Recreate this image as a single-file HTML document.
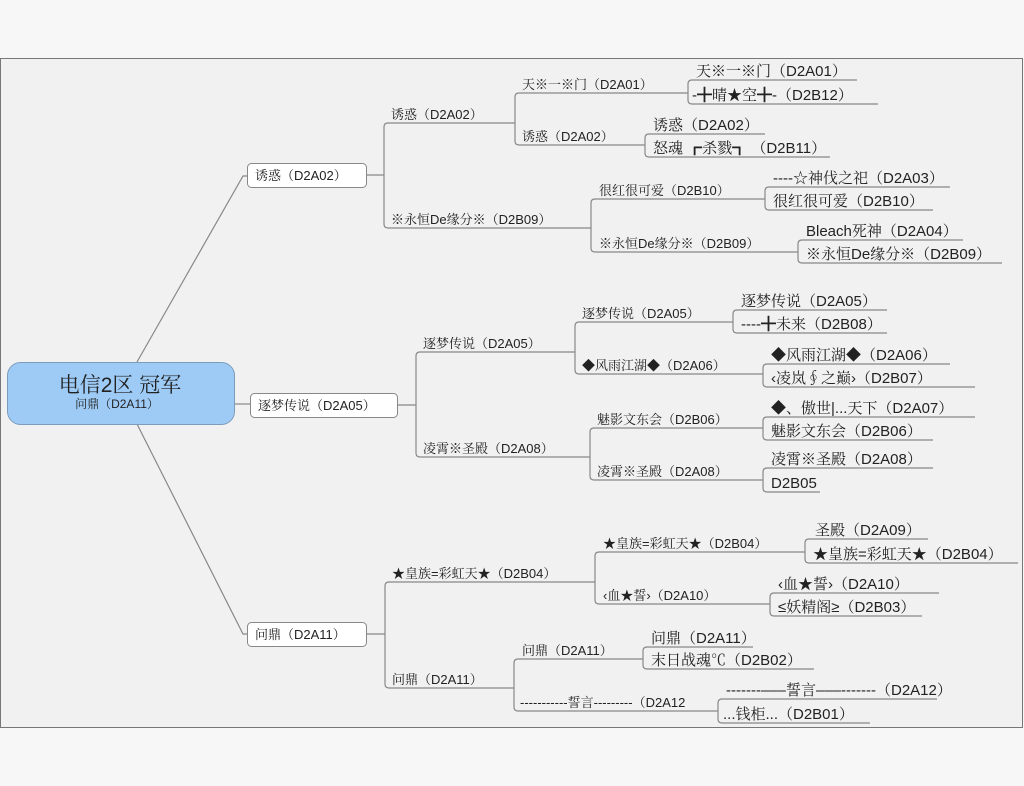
<!DOCTYPE html>
<html><head><meta charset="utf-8"><style>
html,body{margin:0;padding:0;background:#f7f7f7;}
svg{display:block}
text{font-family:"Liberation Sans","Noto Serif CJK SC",serif;fill:#222;}
.l2{font-size:13px}
.l3{font-size:15px}
</style></head><body>
<svg width="1024" height="786" viewBox="0 0 1024 786" xmlns="http://www.w3.org/2000/svg">
<rect x="0" y="0" width="1024" height="786" fill="#f7f7f7"/>
<rect x="0.5" y="58.5" width="1022" height="669" fill="#f1f1f1" stroke="#777" stroke-width="1"/>
<g fill="none" stroke="#888" stroke-width="1.2">
<path d="M137 362 L243 176 H247"/>
<path d="M234 404 H250"/>
<path d="M137 424 L243 634 H247"/>
<path d="M366 175 H384"/>
<path d="M515 123 H388 Q384 123 384 127 V224 Q384 228 388 228 H591"/>
<path d="M688 93 H519 Q515 93 515 97 V141 Q515 145 519 145 H645"/>
<path d="M857 80 H692 Q688 80 688 84 V100 Q688 104 692 104 H878"/>
<path d="M765 134 H649 Q645 134 645 138 V153 Q645 157 649 157 H830"/>
<path d="M765 199 H595 Q591 199 591 203 V248 Q591 252 595 252 H798"/>
<path d="M950 187 H769 Q765 187 765 191 V206 Q765 210 769 210 H933"/>
<path d="M963 240 H802 Q798 240 798 244 V259 Q798 263 802 263 H1002"/>
<path d="M397 405 H416"/>
<path d="M575 352 H420 Q416 352 416 356 V453 Q416 457 420 457 H590"/>
<path d="M733 322 H579 Q575 322 575 326 V370 Q575 374 579 374 H763"/>
<path d="M887 310 H737 Q733 310 733 314 V329 Q733 333 737 333 H887"/>
<path d="M950 364 H767 Q763 364 763 368 V383 Q763 387 767 387 H975"/>
<path d="M763 428 H594 Q590 428 590 432 V476 Q590 480 594 480 H763"/>
<path d="M975 417 H767 Q763 417 763 421 V436 Q763 440 767 440 H933"/>
<path d="M933 468 H767 Q763 468 763 472 V488 Q763 492 767 492 H820"/>
<path d="M366 634 H385"/>
<path d="M595 582 H389 Q385 582 385 586 V684 Q385 688 389 688 H514"/>
<path d="M805 552 H599 Q595 552 595 556 V600 Q595 604 599 604 H770"/>
<path d="M928 539 H809 Q805 539 805 543 V559 Q805 563 809 563 H1018"/>
<path d="M939 593 H774 Q770 593 770 597 V612 Q770 616 774 616 H922"/>
<path d="M643 659 H518 Q514 659 514 663 V707 Q514 711 518 711 H718"/>
<path d="M753 647 H647 Q643 647 643 651 V665 Q643 669 647 669 H814"/>
<path d="M937 699 H722 Q718 699 718 703 V719 Q718 723 722 723 H870"/>
</g>
<rect x="7.5" y="362.5" width="227" height="62" rx="13" fill="#9ecbf6" stroke="#7d9cbc"/>
<text x="120" y="392" font-size="21" text-anchor="middle">电信2区 冠军</text>
<text x="117" y="408" font-size="12" text-anchor="middle">问鼎（D2A11）</text>
<g fill="#fff" stroke="#888">
<rect x="247.5" y="163.5" width="119" height="24" rx="4"/>
<rect x="250.5" y="393.5" width="147" height="24" rx="4"/>
<rect x="247.5" y="622.5" width="119" height="24" rx="4"/>
</g>
<text class="l2" x="255" y="180">诱惑（D2A02）</text>
<text class="l2" x="258" y="410">逐梦传说（D2A05）</text>
<text class="l2" x="255" y="639">问鼎（D2A11）</text>
<g class="l2">
<text x="391" y="119">诱惑（D2A02）</text>
<text x="391" y="224">※永恒De缘分※（D2B09）</text>
<text x="522" y="89">天※一※门（D2A01）</text>
<text x="522" y="141">诱惑（D2A02）</text>
<text x="599" y="195">很红很可爱（D2B10）</text>
<text x="599" y="248">※永恒De缘分※（D2B09）</text>
<text x="423" y="348">逐梦传说（D2A05）</text>
<text x="423" y="453">凌霄※圣殿（D2A08）</text>
<text x="582" y="318">逐梦传说（D2A05）</text>
<text x="582" y="370">◆风雨江湖◆（D2A06）</text>
<text x="597" y="424">魅影文东会（D2B06）</text>
<text x="597" y="476">凌霄※圣殿（D2A08）</text>
<text x="392" y="578">★皇族=彩虹天★（D2B04）</text>
<text x="392" y="684">问鼎（D2A11）</text>
<text x="603" y="548">★皇族=彩虹天★（D2B04）</text>
<text x="603" y="600">‹血★誓›（D2A10）</text>
<text x="522" y="655">问鼎（D2A11）</text>
<text x="520" y="707">-----------誓言---------（D2A12</text>
</g>
<g class="l3">
<text x="696" y="76">天※一※门（D2A01）</text>
<text x="692" y="100">-╋晴★空╋-（D2B12）</text>
<text x="653" y="130">诱惑（D2A02）</text>
<text x="653" y="153">怒魂 ┏杀戮┓ （D2B11）</text>
<text x="773" y="183">----☆神伐之祀（D2A03）</text>
<text x="773" y="206">很红很可爱（D2B10）</text>
<text x="806" y="236">Bleach死神（D2A04）</text>
<text x="806" y="259">※永恒De缘分※（D2B09）</text>
<text x="741" y="306">逐梦传说（D2A05）</text>
<text x="741" y="329">----╋未来（D2B08）</text>
<text x="771" y="360">◆风雨江湖◆（D2A06）</text>
<text x="771" y="383">‹凌岚∮之巅›（D2B07）</text>
<text x="771" y="413">◆、傲世|...天下（D2A07）</text>
<text x="771" y="436">魅影文东会（D2B06）</text>
<text x="771" y="464">凌霄※圣殿（D2A08）</text>
<text x="771" y="488">D2B05</text>
<text x="815" y="535">圣殿（D2A09）</text>
<text x="813" y="559">★皇族=彩虹天★（D2B04）</text>
<text x="778" y="589">‹血★誓›（D2A10）</text>
<text x="778" y="612">≤妖精阁≥（D2B03）</text>
<text x="651" y="643">问鼎（D2A11）</text>
<text x="651" y="665">末日战魂℃（D2B02）</text>
<text x="726" y="695">-------‒‒‒誓言‒‒‒-------（D2A12）</text>
<text x="723" y="719">...钱柜...（D2B01）</text>
</g>
</svg>
</body></html>
